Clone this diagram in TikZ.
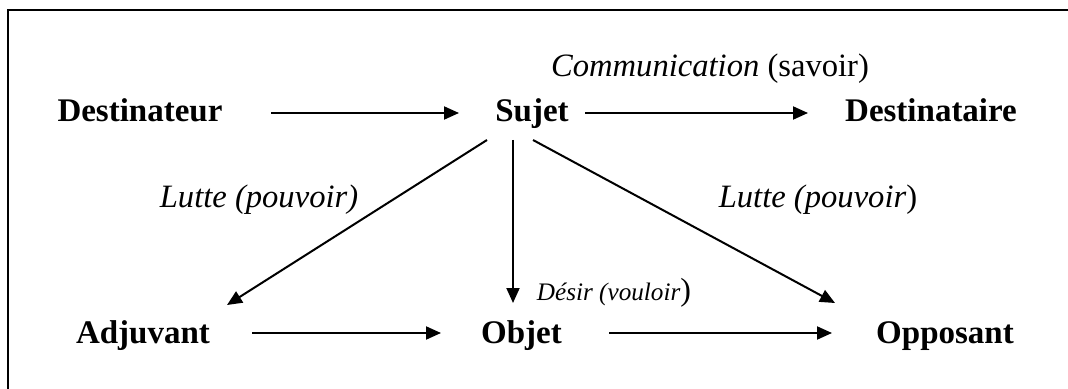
\documentclass[tikz,border=0pt]{standalone}
\usepackage{fontspec}
\setmainfont{Liberation Serif}
\usetikzlibrary{arrows.meta}
\tikzset{
  actant/.style={anchor=base, inner sep=0pt, font=\fontsize{16.5}{20}\selectfont\bfseries},
  rel/.style={anchor=base, inner sep=0pt, font=\fontsize{16.3}{20}\selectfont},
  smallrel/.style={anchor=base, inner sep=0pt, font=\fontsize{12.6}{15}\selectfont},
  arr/.style={line width=1pt, -{Triangle[length=7.5pt,width=6.5pt]}},
  frame/.style={line width=1.2pt}
}
\begin{document}
\begin{tikzpicture}[x=0.5pt,y=-0.5pt]
\useasboundingbox (0,0) rectangle (1068,389);
\draw[frame] (8,389) -- (8,10) -- (1068,10);

\node[actant] (destinateur) at (140,122) {Destinateur};
\node[actant] (sujet) at (532,122) {Sujet};
\node[actant] (destinataire) at (931,122) {Destinataire};
\node[actant] (adjuvant) at (143,343) {Adjuvant};
\node[actant] (objet) at (521.5,343) {Objet};
\node[actant] (opposant) at (945,343) {Opposant};

\node[rel] (comm) at (710,77) {\textit{Communication} (savoir)};
\node[rel] (lutteg) at (259,208) {\textit{Lutte (pouvoir)}};
\node[rel] (lutted) at (818,208) {\textit{Lutte (pouvoir}{\upshape)}};
\node[smallrel] (desir) at (614,300) {\textit{Désir (vouloir}{\upshape\fontsize{16}{18}\selectfont)}};

\draw[arr] ([shift={(131,-9)}]destinateur.base) -- ([shift={(-73,-9)}]sujet.base);
\draw[arr] ([shift={(53,-9)}]sujet.base) -- ([shift={(-123,-9)}]destinataire.base);
\draw[arr] ([shift={(109,-10)}]adjuvant.base) -- ([shift={(-80.5,-10)}]objet.base);
\draw[arr] ([shift={(87.5,-10)}]objet.base) -- ([shift={(-113,-10)}]opposant.base);

\draw[arr] ([shift={(-45,18)}]sujet.base) -- ([shift={(84,-38)}]adjuvant.base);
\draw[arr] ([shift={(-19,18)}]sujet.base) -- ([shift={(-8.5,-40)}]objet.base);
\draw[arr] ([shift={(1,18)}]sujet.base) -- ([shift={(-110,-40)}]opposant.base);
\end{tikzpicture}
\end{document}
